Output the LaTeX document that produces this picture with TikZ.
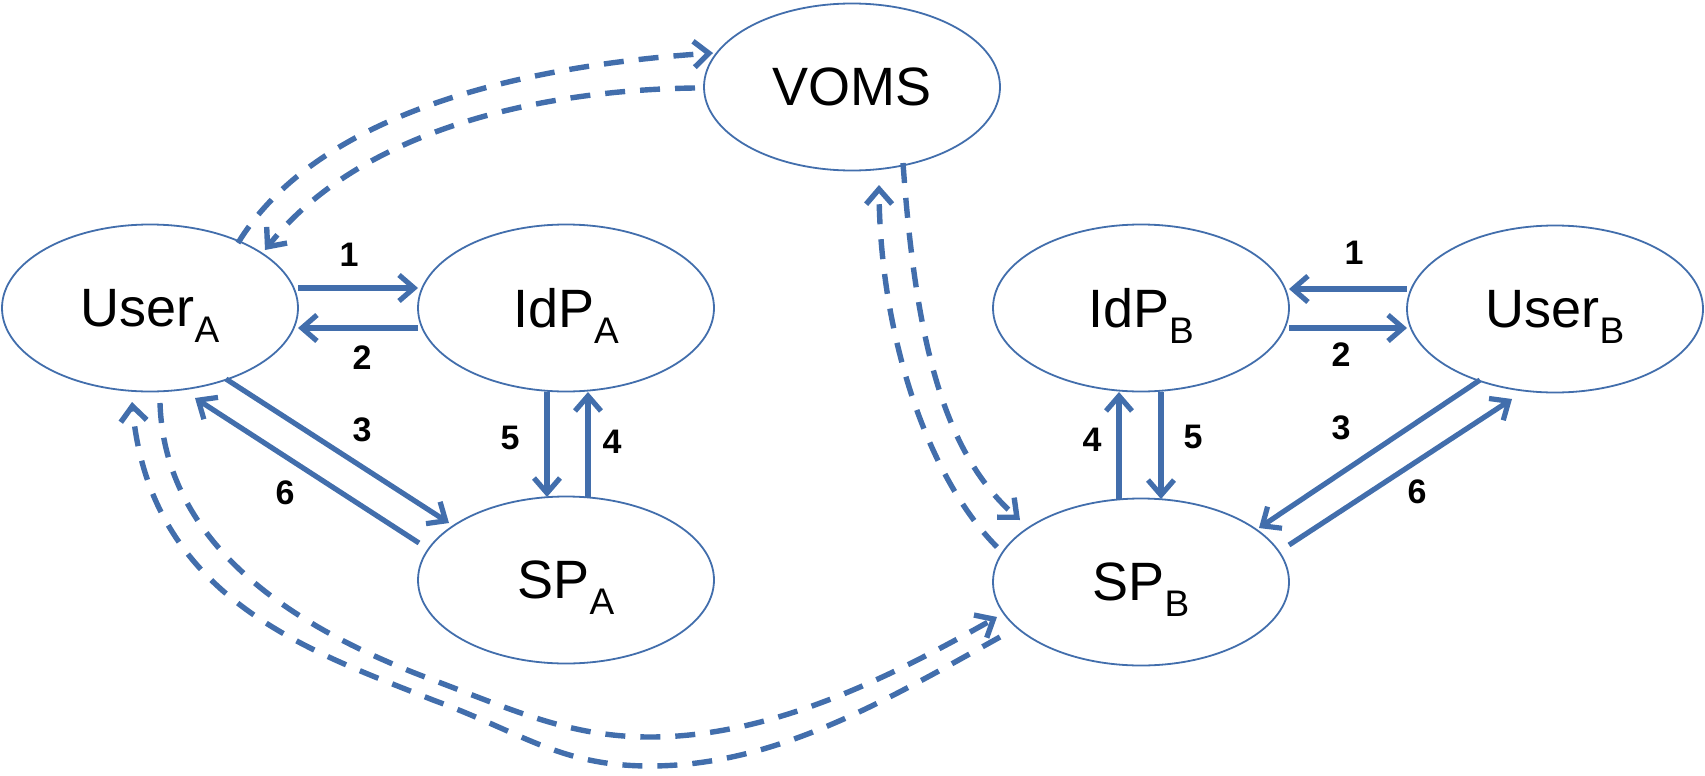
\documentclass[tikz,border=0pt]{standalone}
\usepackage{fontspec}
\setmainfont{Liberation Sans}
\usetikzlibrary{shapes.geometric,arrows.meta,calc}
\definecolor{flowblue}{RGB}{66,110,172}
% lowered, smaller index letter that does not change the box height
\newcommand\lowsub[1]{\raisebox{-16pt}[0pt][0pt]{\fontsize{37}{40}\selectfont #1}}
\begin{document}
\begin{tikzpicture}[x=1pt,y=-1pt,
  party/.style={ellipse, draw=flowblue, line width=1.8pt, fill=white,
    minimum width=296pt, minimum height=167pt, inner sep=0pt,
    font=\fontsize{54}{60}\selectfont},
  flow/.style={draw=flowblue, line width=5.2pt,
    -{Straight Barb[length=15pt,width=26pt]}},
  relay/.style={flow, line width=5.4pt, dash pattern=on 20pt off 15pt},
  numlabel/.style={inner sep=0pt, font=\fontsize{34}{36}\selectfont\bfseries}
]
\useasboundingbox (0,0) rectangle (1705,776);

% entities
\node[party] (voms) at (852,87)   {VOMS};
\node[party] (ua)   at (150,308)  {User\lowsub{A}};
\node[party] (ia)   at (566,308)  {IdP\lowsub{A}};
\node[party] (sa)   at (566,580)  {SP\lowsub{A}};
\node[party] (ib)   at (1141,308) {IdP\lowsub{B}};
\node[party] (ub)   at (1555,309) {User\lowsub{B}};
\node[party] (sb)   at (1141,582) {SP\lowsub{B}};

% domain A message flow
\draw[flow] ($(ua)+(148,-20)$) -- ($(ia)+(-148,-20)$);
\draw[flow] ($(ia)+(-148,20)$) -- ($(ua)+(148,20)$);
\draw[flow] ($(ua)+(76,71)$) -- ($(sa)+(-117,-57)$);
\draw[flow] ($(sa)+(-147,-37)$) -- ($(ua)+(45,90)$);
\draw[flow] ($(ia)+(-19,84)$) -- ($(sa)+(-19,-83)$);
\draw[flow] ($(sa)+(22,-83)$) -- ($(ia)+(22,84)$);

% domain B message flow
\draw[flow] ($(ub)+(-148,-20)$) -- ($(ib)+(148,-19)$);
\draw[flow] ($(ib)+(148,20)$) -- ($(ub)+(-148,19)$);
\draw[flow] ($(sb)+(-22,-83)$) -- ($(ib)+(-22,84)$);
\draw[flow] ($(ib)+(20,84)$) -- ($(sb)+(20,-83)$);
\draw[flow] ($(ub)+(-75,71)$) -- ($(sb)+(118,-54)$);
\draw[flow] ($(sb)+(148,-37)$) -- ($(ub)+(-43,90)$);

% step numbers
\node[numlabel] (a1) at (349,255) {1};
\node[numlabel] (a2) at (362,358) {2};
\node[numlabel] (a3) at (362,430) {3};
\node[numlabel] (a4) at (612,442) {4};
\node[numlabel] (a5) at (510,438) {5};
\node[numlabel] (a6) at (285,493) {6};
\node[numlabel] (b1) at (1354,253) {1};
\node[numlabel] (b2) at (1341,355) {2};
\node[numlabel] (b3) at (1341,428) {3};
\node[numlabel] (b4) at (1092,440) {4};
\node[numlabel] (b5) at (1193,437) {5};
\node[numlabel] (b6) at (1417,492) {6};

% VOMS exchanges
\draw[relay] ($(ua)+(88,-65)$) .. controls +(72,-118) and +(-223,15) .. ($(voms)+(-139,-34)$);
\draw[relay] ($(voms)+(-157,1)$) .. controls +(-155,2) and +(95,-120) .. ($(ua)+(115,-58)$);
\draw[relay] ($(voms)+(51,76)$) .. controls +(12,167) and +(-80,-70) .. ($(sb)+(-121,-62)$);
\draw[relay] ($(sb)+(-144,-35)$) .. controls +(-67,-67) and +(1,155) .. ($(voms)+(27,98)$);

% cross-domain exchanges between UserA and SPB
\draw[relay] ($(ua)+(10,95)$)
  .. controls (165,560) and (323,639) .. (433,680)
  .. controls (513,710) and (570,737) .. (650,737)
  .. controls (770,737) and (887,679) .. ($(sb)+(-144,35)$);
\draw[relay] ($(sb)+(-141,55)$)
  .. controls (885,701) and (775,766) .. (650,766)
  .. controls (560,766) and (523,733) .. (433,700)
  .. controls (313,652) and (150,600) .. ($(ua)+(-18,94)$);
\end{tikzpicture}
\end{document}
